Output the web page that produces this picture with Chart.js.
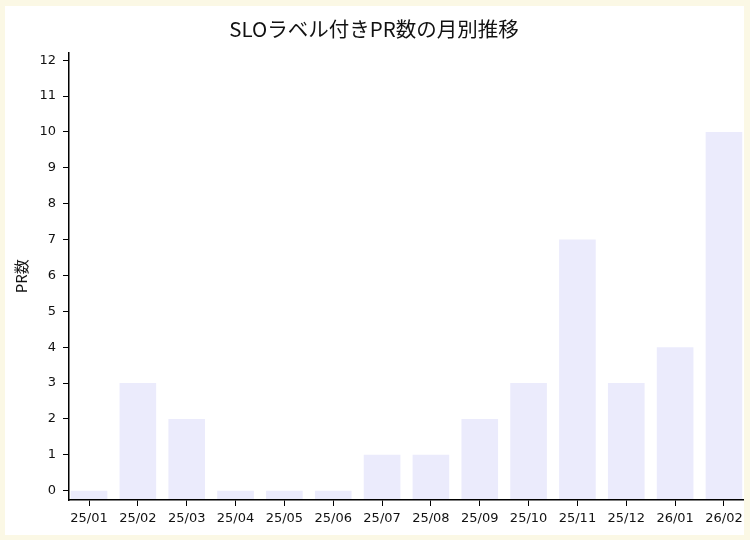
<!DOCTYPE html>
<html>

<head>
  <meta charset="utf-8">
  <title>SLOラベル付きPR数の月別推移</title>
  <script src="https://cdn.jsdelivr.net/npm/chart.js@4.4.1/dist/chart.umd.min.js"></script>
  <style>
    html,
    body {
      margin: 0;
      padding: 0;
      background-color: #fbf8e5;
    }

    #wrap {
      position: absolute;
      left: 5px;
      top: 6px;
      width: 739px;
      height: 529px;
      background-color: #fff;
    }
  </style>
</head>

<body>
  <div id="wrap"><canvas id="chart"></canvas></div>
  <script>
    // monthly counts of PRs with the SLO label
    var months = ['25/01', '25/02', '25/03', '25/04', '25/05', '25/06', '25/07',
      '25/08', '25/09', '25/10', '25/11', '25/12', '26/01', '26/02'];
    var prCounts = [0, 3, 2, 0, 0, 0, 1, 1, 2, 3, 7, 3, 4, 10];
    var yTicks = [0, 1, 2, 3, 4, 5, 6, 7, 8, 9, 10, 11, 12];

    var yMin = -0.26;
    var tickFont = { family: 'DejaVu Sans', size: 13 };
    var cjk = '"Noto Sans CJK JP", "Noto Sans", sans-serif';

    var points = months.map(function(m, i) {
      return { x: i, y: prCounts[i] };
    });

    var options = {
      type: 'bar',
      data: {
        datasets: [{
          label: 'PR数',
          data: points,
          base: yMin,
          backgroundColor: '#ebebfc',
          borderWidth: 0,
          inflateAmount: 0,
          categoryPercentage: 1,
          barPercentage: 0.75
        }]
      },
      options: {
        responsive: true,
        maintainAspectRatio: false,
        animation: false,
        layout: { padding: { left: 0, right: 1, top: 0, bottom: 0 } },
        scales: {
          x: {
            type: 'linear',
            offset: false,
            min: -0.41,
            max: 13.39,
            afterBuildTicks: function(scale) {
              scale.ticks = months.map(function(m, i) { return { value: i }; });
            },
            afterFit: function(scale) {
              scale.height = 35;
              scale.paddingLeft = 0;
              scale.paddingRight = 0;
            },
            grid: { z: 1, offset: false, drawOnChartArea: false, drawTicks: true, tickLength: 6, color: '#000', tickColor: '#000' },
            border: { z: 1, color: '#000', width: 1.5 },
            ticks: {
              autoSkip: false,
              maxRotation: 0,
              padding: 5,
              color: '#111',
              font: tickFont,
              callback: function(v) { return months[v]; }
            }
          },
          y: {
            min: yMin,
            max: 12.21,
            afterBuildTicks: function(scale) {
              scale.ticks = yTicks.map(function(v) { return { value: v }; });
            },
            afterFit: function(scale) { scale.width = 64; },
            grid: { z: 1, drawOnChartArea: false, tickLength: 6, color: '#000' },
            border: { z: 1, color: '#000', width: 1.5 },
            ticks: { padding: 7, color: '#111', font: tickFont },
            title: {
              display: true,
              text: 'PR数',
              color: '#111',
              font: { family: cjk, size: 15 },
              padding: { top: 7, bottom: 0 }
            }
          }
        },
        plugins: {
          legend: { display: false },
          tooltip: { enabled: false },
          title: {
            display: true,
            text: 'SLOラベル付きPR数の月別推移',
            color: '#111',
            font: { family: cjk, size: 20.5, weight: 'normal' },
            padding: { top: 11, bottom: 11 }
          }
        }
      }
    };

    var ctx = document.getElementById('chart').getContext('2d');
    window.chart = new Chart(ctx, options);
  </script>
</body>

</html>
